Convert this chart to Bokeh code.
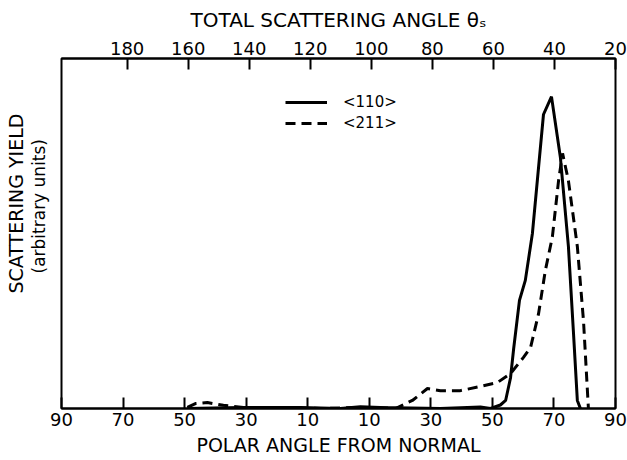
from bokeh.plotting import figure
from bokeh.models import (Range1d, LinearAxis, FixedTicker, Title, Legend, LegendItem)
from bokeh.embed import file_html
from bokeh.resources import INLINE

# Polar angle from normal (signed), scattering yield (arbitrary units, 0-100)
psi_110 = [-49.1, -31.8, -12.4, 0.6, 7.1, 13.6, 33.1, 41.9, 46.1, 49.4, 52.6, 54.3,
           55.9, 56.9, 58.8, 60.7, 63.0, 66.6, 69.2, 72.1, 74.7, 76.3, 77.6, 78.6]
y_110 = [0.0, 0.3, 0.3, 0.0, 0.5, 0.3, 0.0, 0.3, 0.4, 0.0, 1.0, 2.3,
         8.8, 17.0, 30.9, 36.6, 50.0, 84.0, 89.1, 71.7, 46.3, 22.3, 2.3, 0.0]

psi_211 = [-49.1, -46.5, -42.6, -37.4, -30.9, -18.9, -5.9, 7.1, 13.6, 18.5, 24.0, 28.9,
           33.1, 39.6, 46.1, 51.6, 55.9, 60.1, 62.4, 65.0, 67.2, 69.5, 71.5, 72.8,
           74.7, 77.6, 79.6, 81.2]
y_211 = [0.3, 1.4, 1.7, 0.9, 0.3, 0.3, 0.0, 0.3, 0.3, 0.0, 2.3, 5.7,
         5.1, 5.1, 6.3, 7.4, 10.0, 14.6, 17.4, 27.1, 39.4, 49.1, 65.1, 72.9,
         65.1, 46.3, 25.1, 0.0]

bottom_ticks = [-90, -70, -50, -30, -10, 10, 30, 50, 70, 90]
top_ticks = [180, 160, 140, 120, 100, 80, 60, 40, 20]
series_names = ["<110>", "<211>"]

FONT = "DejaVu Sans"

p = figure(width=627, height=460, output_backend="svg", toolbar_location=None,
           x_range=Range1d(-90, 90), y_range=Range1d(0, 100),
           min_border_left=61, min_border_right=12, min_border_top=58, min_border_bottom=52,
           x_axis_location=None, y_axis_location=None)
p.grid.visible = False
p.outline_line_color = "black"
p.outline_line_width = 2
p.background_fill_color = "white"
p.border_fill_color = "white"

bottom = LinearAxis(ticker=FixedTicker(ticks=bottom_ticks),
                    axis_label="POLAR ANGLE FROM NORMAL")
bottom.major_label_overrides = {t: str(abs(t)) for t in bottom_ticks}
top_range = Range1d(start=201.5, end=20)
p.extra_x_ranges = {"theta": top_range}
top = LinearAxis(x_range_name="theta", ticker=FixedTicker(ticks=top_ticks),
                 axis_label="TOTAL SCATTERING ANGLE θₛ")
for ax in (bottom, top):
    ax.major_tick_in = 11
    ax.major_tick_out = 0
    ax.minor_tick_in = 0
    ax.minor_tick_out = 0
    ax.major_tick_line_width = 2
    ax.axis_line_width = 2
    ax.major_label_text_font = FONT
    ax.major_label_text_font_size = "18px"
    ax.major_label_text_color = "black"
    ax.axis_label_text_font = FONT
    ax.axis_label_text_font_size = "19px"
    ax.axis_label_text_font_style = "normal"
    ax.axis_label_text_color = "black"
    ax.major_label_standoff = 4
    ax.axis_label_standoff = 5
top.axis_label_text_font_size = "20px"
top.axis_label_standoff = 7
p.add_layout(bottom, "below")
p.add_layout(top, "above")

r1 = p.line(psi_110, y_110, line_color="black", line_width=3)
r2 = p.line(psi_211, y_211, line_color="black", line_width=3, line_dash="10 6")

legend = Legend(items=[LegendItem(label=series_names[0], renderers=[r1]),
                       LegendItem(label=series_names[1], renderers=[r2])],
                location=(224, 275), padding=0, margin=0, spacing=1,
                glyph_width=42, glyph_height=20, label_height=20, label_standoff=16,
                label_text_font=FONT, label_text_font_size="15px",
                label_text_color="black",
                border_line_alpha=0, background_fill_alpha=0)
p.add_layout(legend, "center")

spacer = Title(text=" ", standoff=0, text_font=FONT, text_font_size="10px")
t_units = Title(text="(arbitrary units)", align="left", offset=135, standoff=0,
                text_font=FONT, text_font_size="17px", text_font_style="normal",
                text_color="black")
t_yield = Title(text="SCATTERING YIELD", align="left", offset=115, standoff=0,
                text_font=FONT, text_font_size="19px", text_font_style="normal",
                text_color="black")
p.add_layout(spacer, "left")
p.add_layout(t_units, "left")
p.add_layout(t_yield, "left")

open("out.html", "w").write(file_html(p, INLINE))
